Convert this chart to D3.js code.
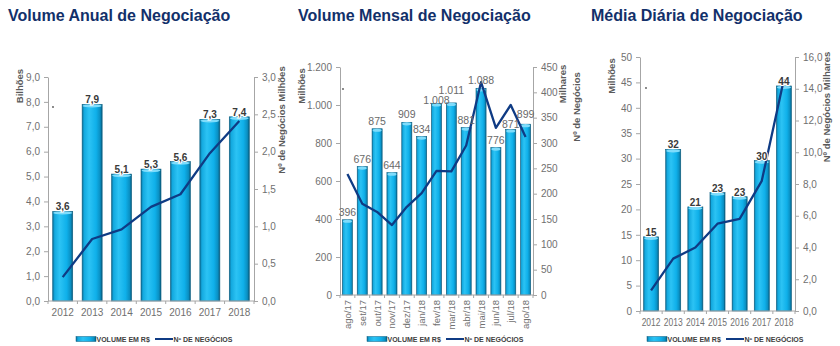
<!DOCTYPE html>
<html><head><meta charset="utf-8">
<script src="https://cdn.jsdelivr.net/npm/d3@7/dist/d3.min.js"></script>
<style>
body{margin:0;background:#fff;}
svg{display:block;font-family:Arial,"Liberation Sans",sans-serif;}
</style></head>
<body><svg id="c" width="840" height="346"></svg>
<script>
// ---------- DATA ----------
const anualYears = ["2012","2013","2014","2015","2016","2017","2018"];
const anualVolume = [3.6, 7.9, 5.1, 5.3, 5.6, 7.3, 7.4];          // Bilhões
const anualNegocios = [0.32, 0.83, 0.96, 1.26, 1.43, 1.98, 2.41];  // Milhões
const anualLeftTicks = [0,1,2,3,4,5,6,7,8,9];
const anualRightTicks = [0,0.5,1,1.5,2,2.5,3];

const mensalMonths = ["ago/17","set/17","out/17","nov/17","dez/17","jan/18","fev/18","mar/18","abr/18","mai/18","jun/18","jul/18","ago/18"];
const mensalVolume = [396, 676, 875, 644, 909, 834, 1008, 1011, 881, 1088, 776, 871, 899]; // Milhões
const mensalNegocios = [239, 180, 164, 138, 174, 201, 245, 244, 295, 420, 330, 375, 312]; // Milhares
const mensalLeftTicks = [0,200,400,600,800,1000,1200];
const mensalRightTicks = [0,50,100,150,200,250,300,350,400,450];

const diariaYears = ["2012","2013","2014","2015","2016","2017","2018"];
const diariaVolume = [14.6, 31.8, 20.5, 23.3, 22.5, 29.6, 44.3];   // Milhões
const diariaNegocios = [1.3, 3.3, 4.0, 5.5, 5.8, 8.2, 14.6];       // Milhares
const diariaLeftTicks = [0,5,10,15,20,25,30,35,40,45,50];
const diariaRightTicks = [0,2,4,6,8,10,12,14,16];

const titles = ["Volume Anual de Negociação","Volume Mensal de Negociação","Média Diária de Negociação"];
const legendLabels = ["VOLUME EM R$","Nº DE NEGÓCIOS"];

// ---------- RENDER ----------
const loc = d3.formatLocale({decimal:",", thousands:".", grouping:[3], currency:["R$ ",""]});
const svg = d3.select("#c");
const NAVY = "#0f3b84", TITLE = "#12306a", GRAY = "#707070", AXIS = "#a6a6a6";

const defs = svg.append("defs");
const g1 = defs.append("linearGradient").attr("id","barGrad").attr("x1","0").attr("x2","1").attr("y1","0").attr("y2","0");
[["0%","#0b6b94"],["10%","#13a9df"],["35%","#2cc3f4"],["70%","#0fb0ea"],["90%","#0a8fc2"],["100%","#08587a"]]
  .forEach(([o,c])=>g1.append("stop").attr("offset",o).attr("stop-color",c));

function drawChart(cfg){
  const g = svg.append("g");
  const x = d3.scaleBand().domain(cfg.cats).range([cfg.x0,cfg.x1]).paddingInner(0.32).paddingOuter(0.16);
  const yL = d3.scaleLinear().domain(cfg.leftDomain).range([cfg.yB,cfg.yT]);
  const yR = d3.scaleLinear().domain(cfg.rightDomain).range([cfg.yB,cfg.yT]);

  // title
  g.append("text").attr("x",cfg.titleX).attr("y",21).attr("font-size",16).attr("font-weight","bold")
    .attr("fill",TITLE).text(cfg.title);

  // axes
  const aL = g.append("g").attr("transform",`translate(${cfg.x0},0)`)
    .call(d3.axisLeft(yL).tickValues(cfg.leftTicks).tickSize(4).tickSizeOuter(0).tickPadding(4).tickFormat(cfg.leftFmt));
  const aR = g.append("g").attr("transform",`translate(${cfg.x1},0)`)
    .call(d3.axisRight(yR).tickValues(cfg.rightTicks).tickSize(4).tickSizeOuter(0).tickPadding(4).tickFormat(cfg.rightFmt));
  [aL,aR].forEach(a=>{
    a.select(".domain").attr("stroke",AXIS);
    a.selectAll(".tick line").attr("stroke",AXIS);
    a.selectAll(".tick text").attr("fill",GRAY).attr("font-size",10).attr("font-family","Arial,'Liberation Sans',sans-serif");
  });

  // bars
  g.selectAll("rect.bar").data(cfg.vol).join("rect").attr("class","bar")
    .attr("x",(d,i)=>x(cfg.cats[i])).attr("width",x.bandwidth())
    .attr("y",d=>yL(d)).attr("height",d=>cfg.yB-yL(d))
    .attr("fill","url(#barGrad)").attr("stroke","#0b5f82").attr("stroke-width",0.6);
  g.selectAll("ellipse.cap").data(cfg.vol).join("ellipse").attr("class","cap")
    .attr("cx",(d,i)=>x(cfg.cats[i])+x.bandwidth()/2).attr("cy",d=>yL(d)+1.5)
    .attr("rx",x.bandwidth()/2-0.5).attr("ry",1.6).attr("fill","#7fdcfb");

  // x axis line + boundary ticks
  g.append("line").attr("x1",cfg.x0).attr("x2",cfg.x1).attr("y1",cfg.yB).attr("y2",cfg.yB).attr("stroke",AXIS);
  const step = x.step();
  d3.range(cfg.cats.length+1).forEach(i=>{
    const xx = cfg.x0 + i*step;
    g.append("line").attr("x1",xx).attr("x2",xx).attr("y1",cfg.yB).attr("y2",cfg.yB+3).attr("stroke",AXIS);
  });

  // x labels
  if(cfg.rotate){
    g.selectAll("text.xl").data(cfg.cats).join("text").attr("class","xl")
      .attr("transform",d=>`translate(${x(d)+x.bandwidth()/2+3.5},${cfg.yB+5}) rotate(-90)`)
      .attr("text-anchor","end").attr("font-size",9.5).attr("fill",GRAY).text(d=>d);
  } else {
    g.selectAll("text.xl").data(cfg.cats).join("text").attr("class","xl")
      .attr("transform",d=>`translate(${x(d)+x.bandwidth()/2},${cfg.yB+15}) scale(${cfg.xLabelScale},1)`)
      .attr("text-anchor","middle").attr("font-size",10).attr("fill",GRAY).text(d=>d);
  }

  // line
  const line = d3.line().x((d,i)=>x(cfg.cats[i])+x.bandwidth()/2).y(d=>yR(d));
  g.append("path").datum(cfg.neg).attr("d",line).attr("fill","none").attr("stroke",NAVY)
    .attr("stroke-width",2.3).attr("stroke-linejoin","round");

  // data labels with simple collision avoidance (like the spreadsheet's label placement)
  const lbl = cfg.vol.map((d,i)=>({v:d, x:x(cfg.cats[i])+x.bandwidth()/2, y:yL(d)+cfg.labelDy, t:cfg.labelFmt(d)}));
  const approxW = t => t.length*cfg.labelSize*0.56;
  for(let i=1;i<lbl.length;i++){
    const a=lbl[i-1], b=lbl[i];
    const overlapX = Math.abs(a.x-b.x) < (approxW(a.t)+approxW(b.t))/2;
    const overlapY = Math.abs(a.y-b.y) < cfg.labelSize*0.9;
    if(overlapX && overlapY){
      const need = cfg.labelSize*0.9 - Math.abs(a.y-b.y);
      if(a.y>=b.y){ a.y += need/2; b.y -= need/2; } else { a.y -= need/2; b.y += need/2; }
    }
  }
  g.selectAll("text.dl").data(lbl).join("text").attr("class","dl")
    .attr("x",d=>d.x).attr("y",d=>d.y)
    .attr("text-anchor","middle").attr("font-size",cfg.labelSize).attr("font-weight",cfg.labelWeight)
    .attr("fill",cfg.labelColor)
    .attr("stroke",cfg.labelHalo?"#ffffff":"none").attr("stroke-width",cfg.labelHalo?2:0)
    .attr("paint-order","stroke")
    .text(d=>d.t);

  // axis titles
  cfg.axisTitles.forEach(t=>{
    g.append("text").attr("transform",`translate(${t.x},${t.y}) rotate(-90)`).attr("text-anchor","middle")
      .attr("font-size",9.5).attr("font-weight","bold").attr("fill","#5a5a5a").text(t.text);
  });

  // stray dot
  g.append("circle").attr("cx",cfg.x0+cfg.dot[0]).attr("cy",cfg.yT+cfg.dot[1]).attr("r",0.9).attr("fill","#555");

  // legend
  const ly = 339, lx = cfg.legendX;
  g.append("rect").attr("x",lx).attr("y",ly-2.5).attr("width",20).attr("height",5).attr("fill","url(#barGrad)")
    .attr("stroke","#0b5f82").attr("stroke-width",0.5);
  g.append("text").attr("x",lx+20.5).attr("y",ly+2.5).attr("font-size",7).attr("font-weight","bold").attr("fill","#404040").text(legendLabels[0]);
  g.append("line").attr("x1",lx+79).attr("x2",lx+97).attr("y1",ly).attr("y2",ly).attr("stroke",NAVY).attr("stroke-width",2);
  g.append("text").attr("x",lx+97.5).attr("y",ly+2.5).attr("font-size",7).attr("font-weight","bold").attr("fill","#404040").text(legendLabels[1]);
}

drawChart({
  title:titles[0], titleX:8, cats:anualYears, vol:anualVolume, neg:anualNegocios,
  x0:48, x1:254, yT:77, yB:301,
  leftDomain:[0,9], rightDomain:[0,3], leftTicks:anualLeftTicks, rightTicks:anualRightTicks,
  leftFmt:loc.format(".1f"), rightFmt:loc.format(".1f"),
  labelFmt:loc.format(".1f"), labelDy:-1, labelSize:10, labelWeight:"bold", labelColor:"#3a3a3a", labelHalo:true,
  axisTitles:[{x:23,y:86,text:"Bilhões"},{x:285,y:84,text:"Milhões"},{x:285,y:139,text:"Nº de Negócios"}],
  dot:[5,30], legendX:76, rotate:false, xLabelScale:1
});
drawChart({
  title:titles[1], titleX:298, cats:mensalMonths, vol:mensalVolume, neg:mensalNegocios,
  x0:340, x1:533, yT:67, yB:295,
  leftDomain:[0,1200], rightDomain:[0,450], leftTicks:mensalLeftTicks, rightTicks:mensalRightTicks,
  leftFmt:loc.format(",d"), rightFmt:loc.format("d"),
  labelFmt:loc.format(",d"), labelDy:-4, labelSize:10.5, labelWeight:"normal", labelColor:"#6a6a6a", labelHalo:false,
  axisTitles:[{x:305,y:86,text:"Milhões"},{x:566,y:84,text:"Milhares"},{x:580,y:107,text:"Nº de Negócios"}],
  dot:[3,22], legendX:367, rotate:true, xLabelScale:1
});
drawChart({
  title:titles[2], titleX:591, cats:diariaYears, vol:diariaVolume, neg:diariaNegocios,
  x0:640, x1:795, yT:57, yB:311,
  leftDomain:[0,50], rightDomain:[0,16], leftTicks:diariaLeftTicks, rightTicks:diariaRightTicks,
  leftFmt:loc.format("d"), rightFmt:loc.format(".1f"),
  labelFmt:loc.format(".0f"), labelDy:-1, labelSize:10, labelWeight:"bold", labelColor:"#3a3a3a", labelHalo:true,
  axisTitles:[{x:615,y:76,text:"Milhões"},{x:830,y:107,text:"Nº de Negócios Milhares"}],
  dot:[6,31], legendX:647, rotate:false, xLabelScale:0.85
});
</script></body></html>
